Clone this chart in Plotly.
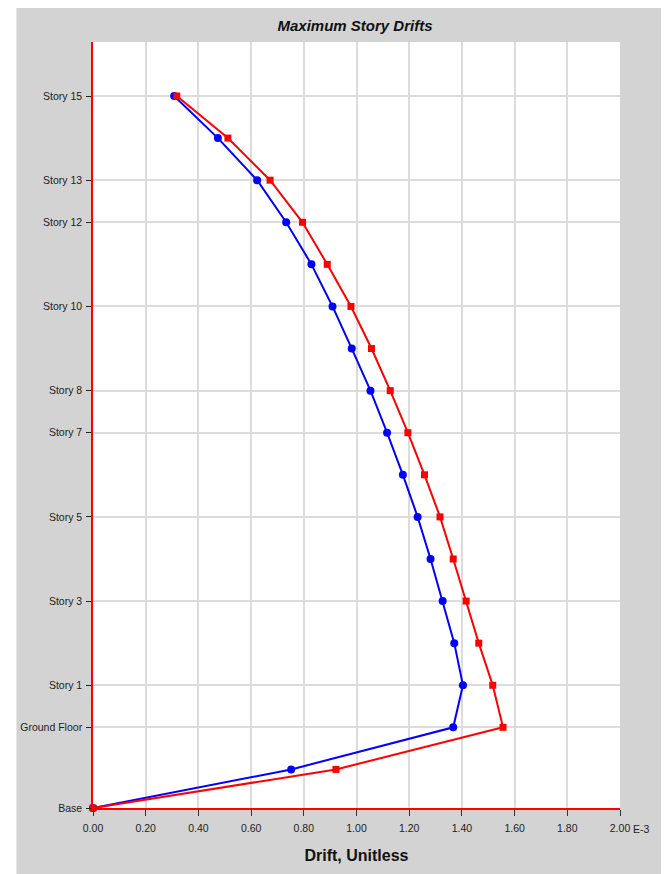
import plotly.graph_objects as go

# Levels (bottom to top) and their elevations (m)
levels = ["Base", "Level 1", "Ground Floor", "Story 1", "Story 2", "Story 3", "Story 4",
          "Story 5", "Story 6", "Story 7", "Story 8", "Story 9", "Story 10", "Story 11",
          "Story 12", "Story 13", "Story 14", "Story 15"]
elevations = [0, 2.75, 5.75, 8.75, 11.75, 14.75, 17.75, 20.75, 23.75, 26.75, 29.75,
              32.75, 35.75, 38.75, 41.75, 44.75, 47.75, 50.75]

# Drift values (x 1E-3)
drift_blue = [0.0, 0.752, 1.367, 1.404, 1.371, 1.327, 1.281, 1.232, 1.176, 1.116, 1.053,
              0.982, 0.909, 0.829, 0.733, 0.623, 0.474, 0.308]
drift_red = [0.0, 0.922, 1.556, 1.517, 1.464, 1.416, 1.367, 1.317, 1.258, 1.195, 1.128,
             1.057, 0.979, 0.889, 0.795, 0.672, 0.512, 0.318]

# Labelled y ticks
ytick_labels = ["Base", "Ground Floor", "Story 1", "Story 3", "Story 5", "Story 7",
                "Story 8", "Story 10", "Story 12", "Story 13", "Story 15"]
ytick_vals = [elevations[levels.index(n)] for n in ytick_labels]

xtick_vals = [0.0, 0.2, 0.4, 0.6, 0.8, 1.0, 1.2, 1.4, 1.6, 1.8, 2.0]
xtick_text = ["0.00", "0.20", "0.40", "0.60", "0.80", "1.00", "1.20", "1.40", "1.60", "1.80", "2.00"]

FONT = "Liberation Sans, Arial, sans-serif"

fig = go.Figure()
fig.add_trace(go.Scatter(
    x=drift_blue, y=elevations, mode="lines+markers",
    line=dict(color="#0000ff", width=2),
    marker=dict(symbol="circle", size=8, color="#0000ff"),
    showlegend=False, cliponaxis=False))
fig.add_trace(go.Scatter(
    x=drift_red, y=elevations, mode="lines+markers",
    line=dict(color="#ff0000", width=2),
    marker=dict(symbol="square", size=7, color="#ff0000"),
    showlegend=False, cliponaxis=False))

# page body has an 8px margin; figure coordinates are page - 8
W, H = 661, 866
L, R, T, B = 82, 49, 34, 66
pw, ph = W - L - R, H - T - B

def px_x(p):
    return (p - L) / pw

def px_y(p):
    return (H - B - p) / ph

fig.add_shape(type="rect", xref="paper", yref="paper",
              x0=px_x(5), x1=px_x(655), y0=px_y(870), y1=px_y(-3),
              fillcolor="#d3d3d3", line=dict(width=0), layer="below")
fig.add_shape(type="rect", xref="paper", yref="paper",
              x0=0, x1=1, y0=0, y1=1,
              fillcolor="#ffffff", line=dict(width=0), layer="below")

fig.add_annotation(text="E-3", xref="x", yref="paper", x=2.0, y=px_y(821),
                   xanchor="left", yanchor="middle", xshift=11, showarrow=False,
                   font=dict(family=FONT, size=10.5, color="#222222"))

fig.update_layout(
    width=W, height=H,
    margin=dict(l=L, r=R, t=T, b=B, pad=0),
    paper_bgcolor="#ffffff", plot_bgcolor="#ffffff",
    title=dict(text="<b><i>Maximum Story Drifts</i></b>", x=(L + pw / 2) / W, xanchor="center",
               y=1 - 18 / H, yanchor="middle",
               font=dict(family=FONT, size=15, color="#111111")),
    xaxis=dict(range=[0, 2.0], tickvals=xtick_vals, ticktext=xtick_text,
               showgrid=True, gridcolor="#dcdcdc", gridwidth=1.5,
               showline=True, linecolor="#ff0000", linewidth=1.5,
               ticks="outside", ticklen=6, tickcolor="#333333", tickwidth=1,
               ticklabelstandoff=4,
               tickfont=dict(family=FONT, size=10.5, color="#222222"),
               zeroline=False,
               title=dict(text="<b>Drift, Unitless</b>", standoff=16,
                          font=dict(family=FONT, size=16, color="#111111"))),
    yaxis=dict(range=[0, 54.6], tickvals=ytick_vals, ticktext=ytick_labels,
               showgrid=True, gridcolor="#dcdcdc", gridwidth=1.5,
               showline=True, linecolor="#ff0000", linewidth=1.5,
               ticks="outside", ticklen=5, tickcolor="#222222", tickwidth=1,
               ticklabelstandoff=2,
               tickfont=dict(family=FONT, size=10.5, color="#222222"),
               zeroline=False),
)

fig.write_html("out.html")
